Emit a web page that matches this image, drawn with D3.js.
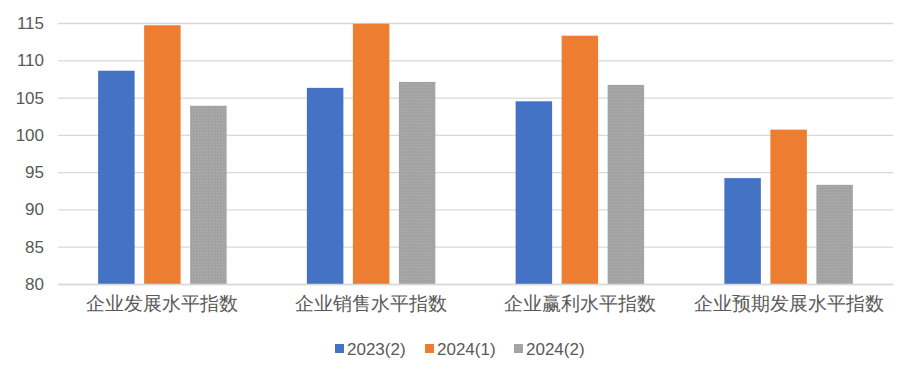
<!DOCTYPE html>
<html lang="zh">
<head>
  <meta charset="UTF-8">
  <title>企业指数</title>
  <script src="https://d3js.org/d3.v7.min.js"></script>
  <style>
    body { margin: 0; background: #fff; }
    svg { font-family: 'Noto Sans CJK SC', 'Liberation Sans', sans-serif; }
  </style>
</head>
<body>
  <div id="wrapper"></div>
  <script>
    const categories = ['企业发展水平指数', '企业销售水平指数', '企业赢利水平指数', '企业预期发展水平指数']
    const seriesNames = ['2023(2)', '2024(1)', '2024(2)']
    const values2023_2 = [108.6, 106.3, 104.5, 94.2]
    const values2024_1 = [114.7, 114.9, 113.3, 100.7]
    const values2024_2 = [103.9, 107.1, 106.7, 93.3]
    const yTicks = [80, 85, 90, 95, 100, 105, 110, 115]
    const colors = ['#4472C4', '#ED7D31', '#A5A5A5']

    const allSeries = [values2023_2, values2024_1, values2024_2]
    const dataset = categories.map((c, i) => ({
      category: c,
      values: seriesNames.map((s, j) => ({ series: s, value: allSeries[j][i] }))
    }))

    const dimensions = {
      width: 915,
      height: 378,
      margin: { top: 23, right: 22, bottom: 94, left: 58 }
    }
    dimensions.boundedWidth = dimensions.width - dimensions.margin.left - dimensions.margin.right
    dimensions.boundedHeight = dimensions.height - dimensions.margin.top - dimensions.margin.bottom

    const wrapper = d3.select('#wrapper')
      .append('svg')
        .attr('width', dimensions.width)
        .attr('height', dimensions.height)

    // gray bars in the reference have a fine grain texture
    const pattern = wrapper.append('defs').append('pattern')
      .attr('id', 'grain')
      .attr('width', 3)
      .attr('height', 3)
      .attr('patternUnits', 'userSpaceOnUse')
    pattern.append('rect').attr('width', 3).attr('height', 3).attr('fill', '#A5A5A5')
    pattern.append('rect').attr('width', 1).attr('height', 1).attr('fill', '#9c9c9c')
    pattern.append('rect').attr('x', 2).attr('y', 1).attr('width', 1).attr('height', 1).attr('fill', '#adadad')
    pattern.append('rect').attr('x', 1).attr('y', 2).attr('width', 1).attr('height', 1).attr('fill', '#9f9f9f')

    const fills = [colors[0], colors[1], 'url(#grain)']

    const bounds = wrapper.append('g')
      .attr('transform', `translate(${dimensions.margin.left}, ${dimensions.margin.top})`)

    const xScale = d3.scaleBand()
      .domain(categories)
      .range([0, dimensions.boundedWidth])

    const yScale = d3.scaleLinear()
      .domain([80, 115])
      .range([dimensions.boundedHeight, 0])

    // inner band: bar width 36.5, gap 9.5
    const groupWidth = 128.5
    const xInner = d3.scaleBand()
      .domain(seriesNames)
      .range([(xScale.bandwidth() - groupWidth) / 2, (xScale.bandwidth() + groupWidth) / 2])
      .paddingInner(0.207)

    // gridlines
    const yAxisGenerator = d3.axisLeft(yScale)
      .tickValues(yTicks)
      .tickSize(-dimensions.boundedWidth)
      .tickPadding(14)
    const yAxis = bounds.append('g')
      .call(yAxisGenerator)
    yAxis.select('.domain').remove()
    yAxis.selectAll('.tick line')
      .attr('stroke', '#d9d9d9')
      .attr('stroke-width', 1.3)
    yAxis.selectAll('.tick text')
      .attr('fill', '#595959')
      .style('font-family', "'Liberation Sans', sans-serif")
      .style('font-size', '17px')

    const groups = bounds.selectAll('.group')
      .data(dataset)
      .join('g')
        .attr('class', 'group')
        .attr('transform', d => `translate(${xScale(d.category)}, 0)`)

    groups.selectAll('rect')
      .data(d => d.values)
      .join('rect')
        .attr('x', d => xInner(d.series))
        .attr('y', d => yScale(d.value))
        .attr('width', xInner.bandwidth())
        .attr('height', d => dimensions.boundedHeight - yScale(d.value))
        .attr('fill', (d, i) => fills[i])

    const xAxisGenerator = d3.axisBottom(xScale).tickSize(0).tickPadding(13)
    const xAxis = bounds.append('g')
      .attr('transform', `translate(0, ${dimensions.boundedHeight})`)
      .call(xAxisGenerator)
    xAxis.select('.domain')
      .attr('stroke', '#d9d9d9')
      .attr('stroke-width', 1.3)
    xAxis.selectAll('.tick text')
      .attr('fill', '#595959')
      .style('font-size', '18.5px')

    // legend
    const legendX = [335, 425, 514]
    const legend = wrapper.append('g')
      .attr('transform', 'translate(0, 349)')
    const items = legend.selectAll('g')
      .data(seriesNames)
      .join('g')
        .attr('transform', (d, i) => `translate(${legendX[i]}, 0)`)
    items.append('rect')
      .attr('y', -5)
      .attr('width', 9)
      .attr('height', 9)
      .attr('fill', (d, i) => fills[i])
    items.append('text')
      .attr('x', 12)
      .attr('y', 0)
      .attr('dy', '0.35em')
      .attr('fill', '#595959')
      .style('font-family', "'Liberation Sans', sans-serif")
      .style('font-size', '17px')
      .text(d => d)
  </script>
</body>
</html>
